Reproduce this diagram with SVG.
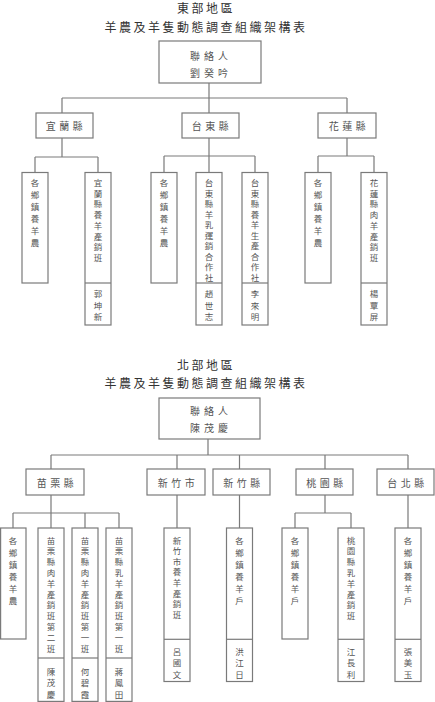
<svg xmlns="http://www.w3.org/2000/svg" width="435" height="702" viewBox="0 0 435 702">
<style>
.bg{fill:#fff}
rect.b{fill:#fff;stroke:#7a7a7a;stroke-width:1.2}
.d{stroke:#7a7a7a;stroke-width:1.2;fill:none}
#connectors path{stroke:#7a7a7a;stroke-width:1.2;fill:none}
text{font-family:"Noto Sans CJK TC","Noto Sans CJK SC",sans-serif;dominant-baseline:central;text-anchor:middle}
.t{font-size:12px;fill:#333;letter-spacing:2.5px}
.c{font-size:10px;fill:#555;letter-spacing:4px}
.l2{font-size:10px;fill:#555;letter-spacing:3.5px}
.v{font-size:8.5px;fill:#555}
</style>
<rect class="bg" x="0" y="0" width="435" height="702"/>

<!-- EAST -->
<g id="east-title">
<text class="t" x="206" y="7.6">東部地區</text>
<text class="t" x="206" y="26">羊農及羊隻動態調查組織架構表</text>
</g>
<g id="connectors">
<path d="M209 83V98M62 98H347M62 98V113M209 98V113M347 98V113"/>
<path d="M62 138V157M35 157H98M35 157V172.5M98 157V172.5"/>
<path d="M209 138V156M164 156H255M164 156V172.5M209 156V172.5M255 156V172.5"/>
<path d="M347 138V156M318 156H374M318 156V172.5M374 156V172.5"/>
<path d="M208 439V455M51 455H408M51 455V469M177 455V469M239.5 455V469M325 455V469M408 455V469"/>
<path d="M51 495V513M13 513H119M13 513V528M51 513V528M85 513V528M119 513V528"/>
<path d="M177 495V528M239.5 495V528M408 495V528"/>
<path d="M325 495V513M295 513H351M295 513V528M351 513V528"/>
</g>

<g id="east-contact">
<rect class="b" x="159" y="41" width="102" height="42"/>
<text class="c" x="211" y="55.5">聯絡人</text>
<text class="c" x="211" y="72">劉癸吟</text>
</g>
<g id="yilan">
<rect class="b" x="36" y="113" width="57" height="25"/>
<text class="l2" x="66" y="125.5">宜蘭縣</text>
</g>
<g id="taitung">
<rect class="b" x="182" y="113" width="57" height="25"/>
<text class="l2" x="212" y="125.5">台東縣</text>
</g>
<g id="hualien">
<rect class="b" x="318" y="113" width="58" height="25"/>
<text class="l2" x="349" y="125.5">花蓮縣</text>
</g>

<g id="yilan-farmers">
<rect class="b" x="22" y="172.5" width="26" height="110.5"/>
<text class="v"><tspan x="35" y="182">各</tspan><tspan x="35" y="194">鄉</tspan><tspan x="35" y="206">鎮</tspan><tspan x="35" y="218">養</tspan><tspan x="35" y="230">羊</tspan><tspan x="35" y="242">農</tspan></text>
</g>
<g id="yilan-group">
<rect class="b" x="85" y="172.5" width="26" height="152.5"/>
<path class="d" d="M85 283H111"/>
<text class="v"><tspan x="98" y="182">宜</tspan><tspan x="98" y="192.7">蘭</tspan><tspan x="98" y="203.4">縣</tspan><tspan x="98" y="214.1">養</tspan><tspan x="98" y="224.8">羊</tspan><tspan x="98" y="235.5">產</tspan><tspan x="98" y="246.2">銷</tspan><tspan x="98" y="256.9">班</tspan></text>
<text class="v"><tspan x="98" y="293">郭</tspan><tspan x="98" y="304.7">坤</tspan><tspan x="98" y="316.4">新</tspan></text>
</g>
<g id="taitung-farmers">
<rect class="b" x="151" y="172.5" width="26" height="110.5"/>
<text class="v"><tspan x="164" y="182">各</tspan><tspan x="164" y="194">鄉</tspan><tspan x="164" y="206">鎮</tspan><tspan x="164" y="218">養</tspan><tspan x="164" y="230">羊</tspan><tspan x="164" y="242">農</tspan></text>
</g>
<g id="taitung-dairy-coop">
<rect class="b" x="196" y="172.5" width="26" height="152.5"/>
<path class="d" d="M196 283H222"/>
<text class="v"><tspan x="209" y="182">台</tspan><tspan x="209" y="192.5">東</tspan><tspan x="209" y="203">縣</tspan><tspan x="209" y="213.5">羊</tspan><tspan x="209" y="224">乳</tspan><tspan x="209" y="234.5">運</tspan><tspan x="209" y="245">銷</tspan><tspan x="209" y="255.5">合</tspan><tspan x="209" y="266">作</tspan><tspan x="209" y="276.5">社</tspan></text>
<text class="v"><tspan x="209" y="293">趙</tspan><tspan x="209" y="304.7">世</tspan><tspan x="209" y="316.4">志</tspan></text>
</g>
<g id="taitung-prod-coop">
<rect class="b" x="242" y="172.5" width="26" height="152.5"/>
<path class="d" d="M242 283H268"/>
<text class="v"><tspan x="255" y="182">台</tspan><tspan x="255" y="192.5">東</tspan><tspan x="255" y="203">縣</tspan><tspan x="255" y="213.5">養</tspan><tspan x="255" y="224">羊</tspan><tspan x="255" y="234.5">生</tspan><tspan x="255" y="245">產</tspan><tspan x="255" y="255.5">合</tspan><tspan x="255" y="266">作</tspan><tspan x="255" y="276.5">社</tspan></text>
<text class="v"><tspan x="255" y="293">李</tspan><tspan x="255" y="304.7">來</tspan><tspan x="255" y="316.4">明</tspan></text>
</g>
<g id="hualien-farmers">
<rect class="b" x="305" y="172.5" width="26" height="110.5"/>
<text class="v"><tspan x="318" y="182">各</tspan><tspan x="318" y="194">鄉</tspan><tspan x="318" y="206">鎮</tspan><tspan x="318" y="218">養</tspan><tspan x="318" y="230">羊</tspan><tspan x="318" y="242">農</tspan></text>
</g>
<g id="hualien-group">
<rect class="b" x="361" y="172.5" width="26" height="152.5"/>
<path class="d" d="M361 283H387"/>
<text class="v"><tspan x="374" y="182">花</tspan><tspan x="374" y="192.7">蓮</tspan><tspan x="374" y="203.4">縣</tspan><tspan x="374" y="214.1">肉</tspan><tspan x="374" y="224.8">羊</tspan><tspan x="374" y="235.5">產</tspan><tspan x="374" y="246.2">銷</tspan><tspan x="374" y="256.9">班</tspan></text>
<text class="v"><tspan x="374" y="293">楊</tspan><tspan x="374" y="304.7">覃</tspan><tspan x="374" y="316.4">屏</tspan></text>
</g>

<!-- NORTH -->
<g id="north-title">
<text class="t" x="206" y="364.5">北部地區</text>
<text class="t" x="206" y="382.7">羊農及羊隻動態調查組織架構表</text>
</g>
<g id="north-contact">
<rect class="b" x="159" y="398" width="101" height="41"/>
<text class="c" x="211" y="410.5">聯絡人</text>
<text class="c" x="211" y="427">陳茂慶</text>
</g>
<g id="miaoli">
<rect class="b" x="26" y="469" width="58" height="26"/>
<text class="l2" x="57" y="482.5">苗栗縣</text>
</g>
<g id="hsinchu-city">
<rect class="b" x="147" y="469" width="58" height="26"/>
<text class="l2" x="178" y="482.5">新竹市</text>
</g>
<g id="hsinchu-county">
<rect class="b" x="213" y="469" width="57" height="26"/>
<text class="l2" x="243.5" y="482.5">新竹縣</text>
</g>
<g id="taoyuan">
<rect class="b" x="296" y="469" width="57" height="26"/>
<text class="l2" x="326.5" y="482.5">桃園縣</text>
</g>
<g id="taipei">
<rect class="b" x="377" y="469" width="57" height="26"/>
<text class="l2" x="407.5" y="482.5">台北縣</text>
</g>

<g id="miaoli-farmers">
<rect class="b" x="0.6" y="528" width="25.4" height="111"/>
<text class="v"><tspan x="13" y="539.5">各</tspan><tspan x="13" y="551.5">鄉</tspan><tspan x="13" y="563.5">鎮</tspan><tspan x="13" y="575.5">養</tspan><tspan x="13" y="587.5">羊</tspan><tspan x="13" y="599.5">農</tspan></text>
</g>
<g id="miaoli-meat-2">
<rect class="b" x="38" y="528" width="26" height="173.4"/>
<path class="d" d="M38 658H64"/>
<text class="v"><tspan x="51" y="539.5">苗</tspan><tspan x="51" y="550.3">栗</tspan><tspan x="51" y="561.1">縣</tspan><tspan x="51" y="571.9">肉</tspan><tspan x="51" y="582.7">羊</tspan><tspan x="51" y="593.5">產</tspan><tspan x="51" y="604.3">銷</tspan><tspan x="51" y="615.1">班</tspan><tspan x="51" y="625.9">第</tspan><tspan x="51" y="636.7">二</tspan><tspan x="51" y="647.5">班</tspan></text>
<text class="v"><tspan x="51" y="671">陳</tspan><tspan x="51" y="682.3">茂</tspan><tspan x="51" y="693.6">慶</tspan></text>
</g>
<g id="miaoli-meat-1">
<rect class="b" x="72" y="528" width="26" height="173.4"/>
<path class="d" d="M72 658H98"/>
<text class="v"><tspan x="85" y="539.5">苗</tspan><tspan x="85" y="550.3">栗</tspan><tspan x="85" y="561.1">縣</tspan><tspan x="85" y="571.9">肉</tspan><tspan x="85" y="582.7">羊</tspan><tspan x="85" y="593.5">產</tspan><tspan x="85" y="604.3">銷</tspan><tspan x="85" y="615.1">班</tspan><tspan x="85" y="625.9">第</tspan><tspan x="85" y="636.7">一</tspan><tspan x="85" y="647.5">班</tspan></text>
<text class="v"><tspan x="85" y="671">何</tspan><tspan x="85" y="682.3">碧</tspan><tspan x="85" y="693.6">霞</tspan></text>
</g>
<g id="miaoli-dairy-1">
<rect class="b" x="106" y="528" width="26" height="173.4"/>
<path class="d" d="M106 658H132"/>
<text class="v"><tspan x="119" y="539.5">苗</tspan><tspan x="119" y="550.3">栗</tspan><tspan x="119" y="561.1">縣</tspan><tspan x="119" y="571.9">乳</tspan><tspan x="119" y="582.7">羊</tspan><tspan x="119" y="593.5">產</tspan><tspan x="119" y="604.3">銷</tspan><tspan x="119" y="615.1">班</tspan><tspan x="119" y="625.9">第</tspan><tspan x="119" y="636.7">一</tspan><tspan x="119" y="647.5">班</tspan></text>
<text class="v"><tspan x="119" y="671">蔣</tspan><tspan x="119" y="682.3">鳳</tspan><tspan x="119" y="693.6">田</tspan></text>
</g>
<g id="hsinchu-city-group">
<rect class="b" x="164" y="528" width="26" height="153.5"/>
<path class="d" d="M164 639.3H190"/>
<text class="v"><tspan x="177" y="539.5">新</tspan><tspan x="177" y="550.1">竹</tspan><tspan x="177" y="560.7">市</tspan><tspan x="177" y="571.3">養</tspan><tspan x="177" y="581.9">羊</tspan><tspan x="177" y="592.5">產</tspan><tspan x="177" y="603.1">銷</tspan><tspan x="177" y="613.7">班</tspan></text>
<text class="v"><tspan x="177" y="650.5">呂</tspan><tspan x="177" y="662">國</tspan><tspan x="177" y="673.5">文</tspan></text>
</g>
<g id="hsinchu-county-farmers">
<rect class="b" x="226.5" y="528" width="26" height="153.5"/>
<path class="d" d="M226.5 639.3H252.5"/>
<text class="v"><tspan x="239.5" y="539.5">各</tspan><tspan x="239.5" y="551.5">鄉</tspan><tspan x="239.5" y="563.5">鎮</tspan><tspan x="239.5" y="575.5">養</tspan><tspan x="239.5" y="587.5">羊</tspan><tspan x="239.5" y="599.5">戶</tspan></text>
<text class="v"><tspan x="239.5" y="650.5">洪</tspan><tspan x="239.5" y="662">江</tspan><tspan x="239.5" y="673.5">日</tspan></text>
</g>
<g id="taoyuan-farmers">
<rect class="b" x="282" y="528" width="26" height="111"/>
<text class="v"><tspan x="295" y="539.5">各</tspan><tspan x="295" y="551.5">鄉</tspan><tspan x="295" y="563.5">鎮</tspan><tspan x="295" y="575.5">養</tspan><tspan x="295" y="587.5">羊</tspan><tspan x="295" y="599.5">戶</tspan></text>
</g>
<g id="taoyuan-dairy">
<rect class="b" x="338" y="528" width="26" height="153.5"/>
<path class="d" d="M338 639.3H364"/>
<text class="v"><tspan x="351" y="539.5">桃</tspan><tspan x="351" y="550.3">園</tspan><tspan x="351" y="561.1">縣</tspan><tspan x="351" y="571.9">乳</tspan><tspan x="351" y="582.7">羊</tspan><tspan x="351" y="593.5">產</tspan><tspan x="351" y="604.3">銷</tspan><tspan x="351" y="615.1">班</tspan></text>
<text class="v"><tspan x="351" y="650.5">江</tspan><tspan x="351" y="662">長</tspan><tspan x="351" y="673.5">利</tspan></text>
</g>
<g id="taipei-farmers">
<rect class="b" x="395" y="528" width="26" height="153.5"/>
<path class="d" d="M395 639.3H421"/>
<text class="v"><tspan x="408" y="539.5">各</tspan><tspan x="408" y="551.5">鄉</tspan><tspan x="408" y="563.5">鎮</tspan><tspan x="408" y="575.5">養</tspan><tspan x="408" y="587.5">羊</tspan><tspan x="408" y="599.5">戶</tspan></text>
<text class="v"><tspan x="408" y="650.5">張</tspan><tspan x="408" y="662">美</tspan><tspan x="408" y="673.5">玉</tspan></text>
</g>
</svg>
